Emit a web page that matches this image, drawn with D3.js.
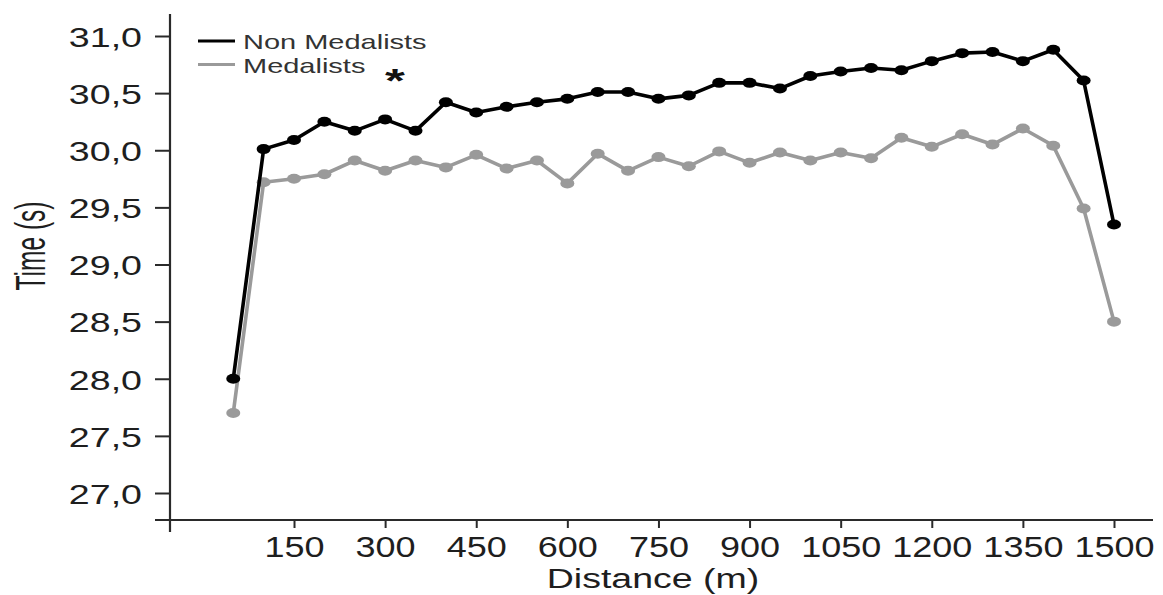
<!DOCTYPE html>
<html>
<head>
<meta charset="utf-8">
<script src="https://cdn.jsdelivr.net/npm/d3@7"></script>
<style>
  body { margin: 0; background: #fff; }
  svg { display: block; font-family: "Liberation Sans", Arial, Helvetica, sans-serif; }
</style>
</head>
<body>
<div id="chart"></div>
<script>
// distances (m) of each split
const distances = [50, 100, 150, 200, 250, 300, 350, 400, 450, 500, 550, 600, 650, 700, 750,
  800, 850, 900, 950, 1000, 1050, 1100, 1150, 1200, 1250, 1300, 1350, 1400, 1450, 1500];

// split times (s)
const nonMedalists = [28.00, 30.01, 30.09, 30.25, 30.17, 30.27, 30.17, 30.42, 30.33, 30.38,
  30.42, 30.45, 30.51, 30.51, 30.45, 30.48, 30.59, 30.59, 30.54, 30.65,
  30.69, 30.72, 30.70, 30.78, 30.85, 30.86, 30.78, 30.88, 30.61, 29.35];
const medalists = [27.70, 29.72, 29.75, 29.79, 29.91, 29.82, 29.91, 29.85, 29.96, 29.84,
  29.91, 29.71, 29.97, 29.82, 29.94, 29.86, 29.99, 29.89, 29.98, 29.91,
  29.98, 29.93, 30.11, 30.03, 30.14, 30.05, 30.19, 30.04, 29.49, 28.50];

const xTicks = [150, 300, 450, 600, 750, 900, 1050, 1200, 1350, 1500];
const yTicks = [27.0, 27.5, 28.0, 28.5, 29.0, 29.5, 30.0, 30.5, 31.0];

const seriesNames = ["Non Medalists", "Medalists"];
const seriesColors = ["#000000", "#9a9a9a"];

const width = 1163, height = 595;

const svg = d3.select("#chart").append("svg")
  .attr("width", width)
  .attr("height", height);

// scales
const x = d3.scaleLinear().domain([0, 1500]).range([202.9, 1114]);
const y = d3.scaleLinear().domain([27, 31]).range([493, 36]);

const comma = d3.formatLocale({ decimal: ",", thousands: ".", grouping: [3], currency: ["", ""] }).format(".1f");

const axisColor = "#2a2a2a";
const axisX0 = 170, axisY0 = 520;

// Y axis
const yAxis = svg.append("g")
  .attr("transform", "translate(" + axisX0 + ",0)")
  .call(d3.axisLeft(y).tickValues(yTicks).tickSize(15).tickFormat(comma));
yAxis.select(".domain").remove();
yAxis.selectAll(".tick line").attr("stroke", axisColor).attr("stroke-width", 2);
yAxis.selectAll(".tick text")
  .attr("x", 0)
  .attr("dy", "0.36em")
  .attr("transform", "translate(-28,0) scale(1.32,1)")
  .attr("font-size", 28.5)
  .attr("fill", "#1e1e1e")
  .style("font-family", "'Liberation Sans', Arial, sans-serif");

// X axis
const xAxis = svg.append("g")
  .attr("transform", "translate(0," + axisY0 + ")")
  .call(d3.axisBottom(x).tickValues(xTicks).tickSize(8).tickFormat(d3.format("d")));
xAxis.select(".domain").remove();
xAxis.selectAll(".tick line").attr("stroke", axisColor).attr("stroke-width", 2);
xAxis.selectAll(".tick text")
  .attr("y", 0)
  .attr("dy", 0)
  .attr("transform", "translate(0,37) scale(1.2,1)")
  .attr("font-size", 30)
  .attr("fill", "#1e1e1e")
  .style("font-family", "'Liberation Sans', Arial, sans-serif");

// axis lines (they cross at the origin)
svg.append("line")
  .attr("x1", axisX0).attr("x2", axisX0)
  .attr("y1", 14).attr("y2", 532)
  .attr("stroke", axisColor).attr("stroke-width", 2.2);
svg.append("line")
  .attr("x1", 155).attr("x2", 1153)
  .attr("y1", axisY0).attr("y2", axisY0)
  .attr("stroke", axisColor).attr("stroke-width", 2.2);

// axis titles
svg.append("text")
  .attr("transform", "translate(653,588) scale(1.34,1)")
  .attr("text-anchor", "middle")
  .attr("font-size", 28)
  .attr("fill", "#1e1e1e")
  .text("Distance (m)");

svg.append("text")
  .attr("transform", "translate(45,246) rotate(-90) scale(1,1.75)")
  .attr("text-anchor", "middle")
  .attr("font-size", 24.5)
  .attr("fill", "#1e1e1e")
  .text("Time (s)");

// lines + markers
const series = [nonMedalists, medalists];
const line = d3.line()
  .x((d, i) => x(distances[i]))
  .y(d => y(d));

// draw gray first so black sits on top where they overlap
[1, 0].forEach(k => {
  svg.append("path")
    .datum(series[k])
    .attr("fill", "none")
    .attr("stroke", seriesColors[k])
    .attr("stroke-width", 3.6)
    .attr("stroke-linejoin", "round")
    .attr("d", line);

  svg.append("g")
    .selectAll("ellipse")
    .data(series[k])
    .enter()
    .append("ellipse")
    .attr("cx", (d, i) => x(distances[i]))
    .attr("cy", d => y(d))
    .attr("rx", 7)
    .attr("ry", 5)
    .attr("fill", seriesColors[k]);
});

// legend
const legend = svg.append("g");
seriesNames.forEach((name, i) => {
  const ly = 41 + i * 23.5;
  legend.append("line")
    .attr("x1", 198).attr("x2", 235)
    .attr("y1", ly).attr("y2", ly)
    .attr("stroke", seriesColors[i])
    .attr("stroke-width", 3);
  legend.append("text")
    .attr("transform", "translate(243," + (ly + 8) + ") scale(1.45,1)")
    .attr("font-size", 20)
    .attr("fill", "#333")
    .text(name);
});

// significance marker
svg.append("text")
  .attr("transform", "translate(395,92) scale(1.5,1)")
  .attr("text-anchor", "middle")
  .attr("font-size", 34)
  .attr("font-weight", "bold")
  .attr("fill", "#111")
  .text("*");
</script>
</body>
</html>
